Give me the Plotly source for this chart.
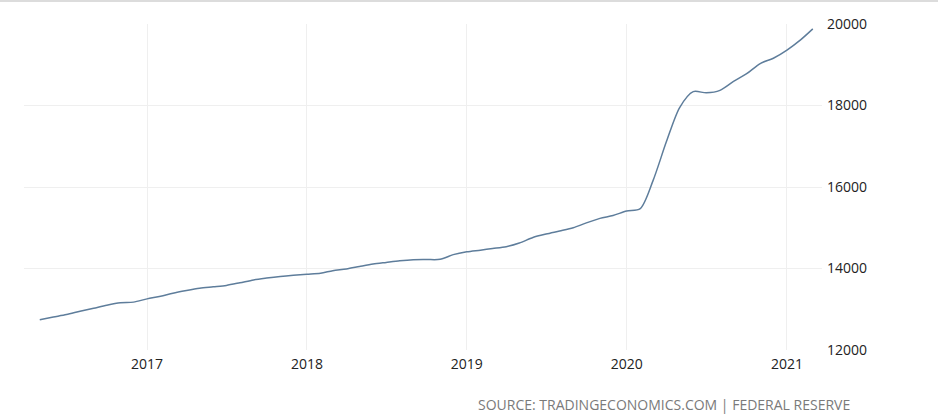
import pandas as pd
import plotly.graph_objects as go

# Monthly values (billions USD), May 2016 .. Mar 2021
months = pd.date_range("2016-05-01", "2021-03-01", freq="MS")
m2_values = [
    12745, 12810, 12870, 12950, 13025, 13100, 13160, 13175,          # 2016 May-Dec
    13255, 13320, 13395, 13460, 13515, 13550, 13585, 13650, 13720, 13765, 13805, 13835,  # 2017
    13860, 13885, 13945, 13990, 14050, 14110, 14150, 14190, 14215, 14220, 14225, 14340,  # 2018
    14410, 14450, 14490, 14535, 14625, 14760, 14845, 14920, 15000, 15120, 15230, 15300,  # 2019
    15410, 15470, 16150, 17120, 17950, 18340, 18310, 18370, 18590, 18780, 19030, 19160,  # 2020
    19360, 19610, 19880,                                                                  # 2021
]
y_ticks = [12000, 14000, 16000, 18000, 20000]
source_text = "SOURCE: TRADINGECONOMICS.COM | FEDERAL RESERVE"

fig = go.Figure()
fig.add_trace(go.Scatter(
    x=months, y=m2_values, mode="lines",
    line=dict(color="#5e7d9b", width=1.5, shape="spline", smoothing=0.8),
    hoverinfo="x+y", showlegend=False,
))

fig.update_layout(
    width=938, height=416,
    margin=dict(l=24, r=116, t=24, b=66),
    paper_bgcolor="white", plot_bgcolor="white",
    font=dict(family="Open Sans", size=14, color="#222"),
    xaxis=dict(
        range=["2016-03-26", "2021-03-22"],
        tick0="2017-01-01", dtick="M12", tickformat="%Y",
        showgrid=True, gridcolor="#efefef", gridwidth=1,
        showline=False, zeroline=False, ticks="",
        ticklabelstandoff=4,
        tickfont=dict(family="Open Sans", size=14, color="#222"),
    ),
    yaxis=dict(
        side="right", range=[12000, 20000], tickvals=y_ticks,
        tickformat="d",
        showgrid=True, gridcolor="#efefef", gridwidth=1,
        showline=False, zeroline=False, ticks="",
        ticklabelstandoff=4,
        tickfont=dict(family="Open Sans", size=14, color="#222"),
    ),
    shapes=[dict(
        type="line", xref="paper", yref="paper",
        x0=-0.05, x1=1.2, y0=1.0705, y1=1.0705,
        line=dict(color="#dcdcdc", width=2),
    )],
    annotations=[dict(
        text=source_text, xref="paper", yref="paper",
        x=1.038, y=-0.166, xanchor="right", yanchor="middle",
        showarrow=False,
        font=dict(family="Open Sans", size=14, color="#7a7a7a"),
    )],
)

fig.write_html(
    "out.html",
    config={"displayModeBar": False},
    post_script="document.body.style.margin='0';",
)
